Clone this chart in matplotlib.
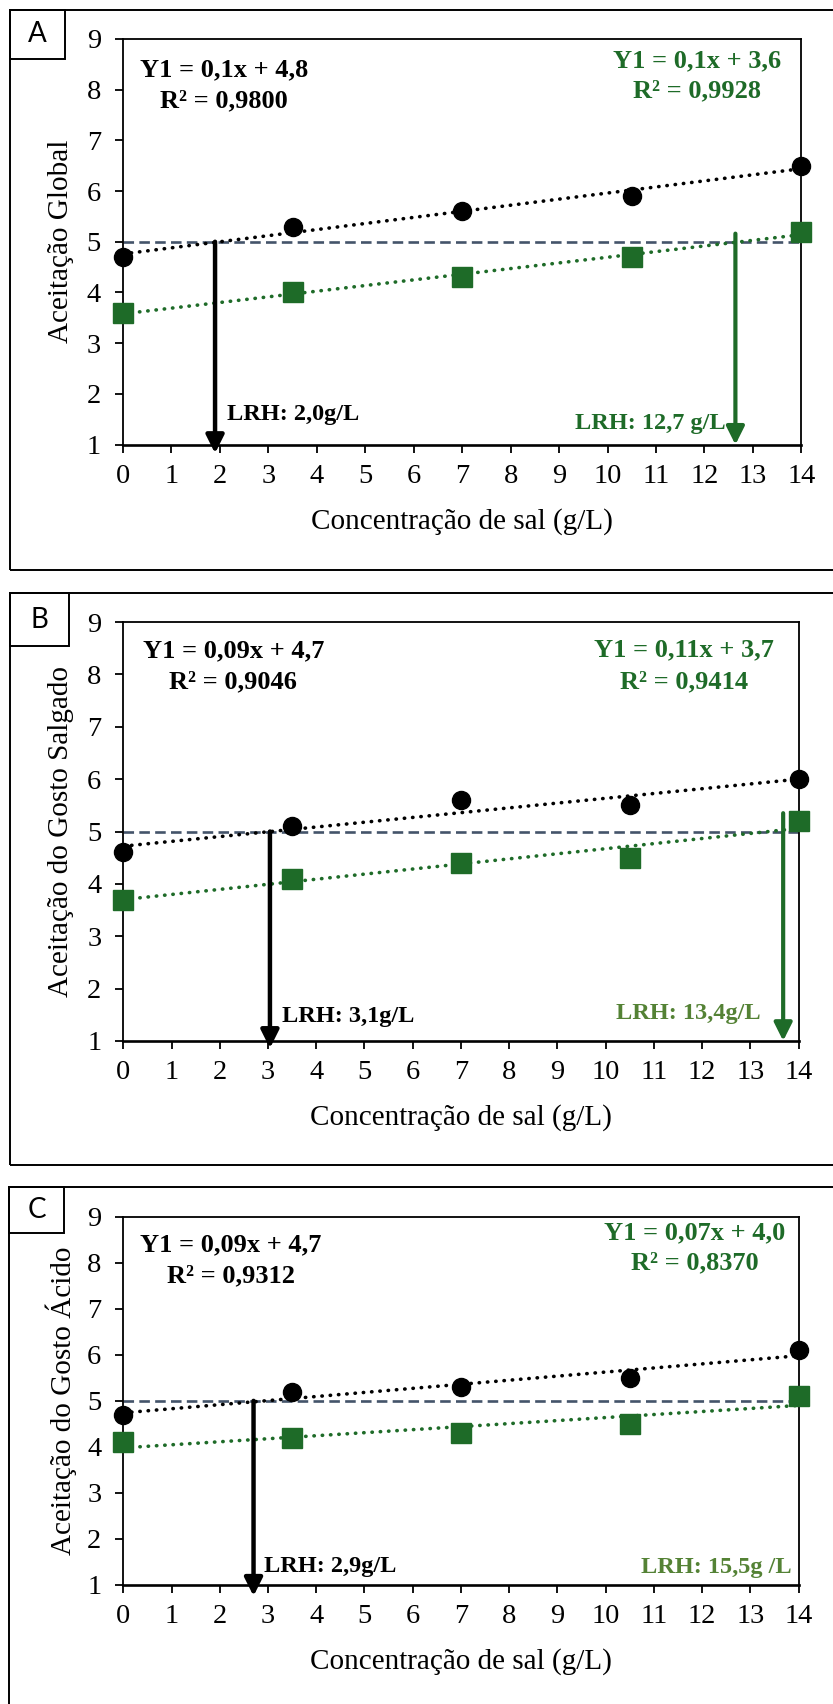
import numpy as np
import matplotlib
matplotlib.use('Agg')
import matplotlib.pyplot as plt
from matplotlib.patches import Rectangle

plt.rcParams['font.family'] = ['Liberation Serif', 'DejaVu Serif']

# --- dados ---
conc = [0, 3.5, 7, 10.5, 14]

global_preto = [4.7, 5.3, 5.6, 5.9, 6.5]
global_verde = [3.6, 4.0, 4.3, 4.7, 5.2]
salgado_preto = [4.6, 5.1, 5.6, 5.5, 6.0]
salgado_verde = [3.7, 4.1, 4.4, 4.5, 5.2]
acido_preto = [4.7, 5.2, 5.3, 5.5, 6.1]
acido_verde = [4.1, 4.2, 4.3, 4.5, 5.1]

letras = ['A', 'B', 'C']
ylabels = ['Aceitação Global', 'Aceitação do Gosto Salgado', 'Aceitação do Gosto Ácido']
xlabel = 'Concentração de sal (g/L)'

eq_preto = [('Y1 = 0,1x + 4,8', 'R² = 0,9800'), ('Y1 = 0,09x + 4,7', 'R² = 0,9046'),
            ('Y1 = 0,09x + 4,7', 'R² = 0,9312')]
eq_verde = [('Y1 = 0,1x + 3,6', 'R² = 0,9928'), ('Y1 = 0,11x + 3,7', 'R² = 0,9414'),
            ('Y1 = 0,07x + 4,0', 'R² = 0,8370')]
lrh_preto = ['LRH: 2,0g/L', 'LRH: 3,1g/L', 'LRH: 2,9g/L']
lrh_verde = ['LRH: 12,7 g/L', 'LRH: 13,4g/L', 'LRH: 15,5g /L']

# setas (x onde foram desenhadas, topo e ponta)
seta_preto_x = [1.9, 3.04, 2.7]
seta_preto_ponta = [0.83, 0.86, 0.76]
seta_verde_x = [12.64, 13.68, None]
seta_verde_topo = [5.16, 5.35, None]
limiar = 5

PRETO = 'black'
VERDE = '#1E6B28'
VERDE_CLARO = '#548235'
AZUL_CINZA = '#44546A'

W, H = 833, 1704
fig = plt.figure(figsize=(W / 100, H / 100), dpi=100)

# geometria dos paineis em pixels: eixo (esq, dir, topo, base), caixa externa, caixa da letra
# posicoes dos textos em coordenadas de dados: (x, y linha 1, y linha 2)
paineis = [
    dict(ax=(123.0, 801.3, 38.8, 444.7), caixa=(9.6, 9.6, 569.7), letra=(9.6, 65, 9.6, 58.5),
         eqp=(2.08, 8.38, 7.78), eqv=(11.85, 8.56, 7.98), lrhp=(2.15, 1.6), lrhv=(12.44, 1.42),
         cor_lrhv=VERDE),
    dict(ax=(123.3, 798.6, 622.1, 1040.9), caixa=(9.6, 593.2, 1165), letra=(9.6, 69, 593.2, 645.8),
         eqp=(2.28, 8.46, 7.86), eqv=(11.63, 8.47, 7.86), lrhp=(3.29, 1.47), lrhv=(13.21, 1.52),
         cor_lrhv=VERDE_CLARO),
    dict(ax=(123.3, 798.6, 1216.7, 1585.0), caixa=(9.0, 1187, 1730), letra=(9.0, 64, 1187, 1233),
         eqp=(2.23, 8.39, 7.71), eqv=(11.84, 8.64, 7.99), lrhp=(2.92, 1.4), lrhv=(13.86, 1.38),
         cor_lrhv=VERDE_CLARO),
]
series = [(global_preto, global_verde), (salgado_preto, salgado_verde), (acido_preto, acido_verde)]

xs = np.array([0, 14])
for i, p in enumerate(paineis):
    l, r, t, b = p['ax']
    ax = fig.add_axes([l / W, 1 - b / H, (r - l) / W, (b - t) / H])
    y_preto, y_verde = series[i]

    ax.set_xlim(0, 14)
    ax.set_ylim(1, 9)
    ax.set_xticks(range(0, 15))
    ax.set_yticks(range(1, 10))
    ax.tick_params(axis='both', direction='out', length=5.8, width=1.3, labelsize=20.5)
    ax.tick_params(axis='x', pad=8)
    ax.tick_params(axis='y', pad=10)
    for s in ax.spines.values():
        s.set_linewidth(1.3)
    ax.spines['bottom'].set_linewidth(1.9)

    # linha do limiar
    ax.axhline(limiar, color=AZUL_CINZA, lw=1.9, ls=(0, (4.0, 2.0)), zorder=2)

    # linhas de tendencia
    for ys, cor in [(y_preto, PRETO), (y_verde, VERDE)]:
        a, c = np.polyfit(conc, ys, 1)
        ax.plot(xs, a * xs + c, color=cor, lw=2.6, ls=(0, (0.1, 2.2)),
                dash_capstyle='round', zorder=3)

    ax.plot(conc, y_preto, 'o', ms=13, color=PRETO, clip_on=False, zorder=5)
    ax.plot(conc, y_verde, 's', ms=13.7, color=VERDE, clip_on=False, zorder=5)

    # setas LRH
    estilo = '-|>,head_length=0.6,head_width=0.3'
    ax.annotate('', xy=(seta_preto_x[i], seta_preto_ponta[i]), xytext=(seta_preto_x[i], limiar),
                arrowprops=dict(arrowstyle=estilo, lw=3.2, color=PRETO, mutation_scale=18,
                                shrinkA=0, shrinkB=0),
                annotation_clip=False, zorder=4)
    if seta_verde_x[i] is not None:
        ax.annotate('', xy=(seta_verde_x[i], 1.0), xytext=(seta_verde_x[i], seta_verde_topo[i]),
                    arrowprops=dict(arrowstyle=estilo, lw=3.0, color=VERDE, mutation_scale=18,
                                    shrinkA=0, shrinkB=0),
                    annotation_clip=False, zorder=4)

    # equacoes
    for eq, pos, cor in [(eq_preto[i], p['eqp'], PRETO), (eq_verde[i], p['eqv'], VERDE)]:
        ax.text(pos[0], pos[1], eq[0], ha='center', va='center', fontsize=19,
                fontweight='bold', color=cor)
        ax.text(pos[0], pos[2], eq[1], ha='center', va='center', fontsize=19,
                fontweight='bold', color=cor)
    ax.text(*p['lrhp'], lrh_preto[i], ha='left', va='center', fontsize=17.5, fontweight='bold',
            color=PRETO)
    ax.text(*p['lrhv'], lrh_verde[i], ha='right', va='center', fontsize=17.5, fontweight='bold',
            color=p['cor_lrhv'])

    # rotulos dos eixos
    ax.text((61 - l) / (r - l), 0.5, ylabels[i], rotation=90, ha='center', va='center',
            transform=ax.transAxes, fontsize=21)
    ax.text(0.5, -77 / (b - t), xlabel, ha='center', va='center',
            transform=ax.transAxes, fontsize=21)

    # caixa externa e caixa da letra
    cx0, cy0, cy1 = p['caixa']
    fig.add_artist(Rectangle((cx0 / W, 1 - cy1 / H), (845 - cx0) / W, (cy1 - cy0) / H,
                             transform=fig.transFigure, fill=False, lw=1.4, ec='black'))
    lx0, lx1, ly0, ly1 = p['letra']
    fig.add_artist(Rectangle((lx0 / W, 1 - ly1 / H), (lx1 - lx0) / W, (ly1 - ly0) / H,
                             transform=fig.transFigure, fill=False, lw=1.4, ec='black'))
    fig.text((lx0 + lx1) / 2 / W, 1 - (ly0 + ly1) / 2 / H, letras[i], ha='center', va='center',
             fontsize=20, family=['Lato', 'DejaVu Sans'])

fig.savefig('out.png', dpi=100)
